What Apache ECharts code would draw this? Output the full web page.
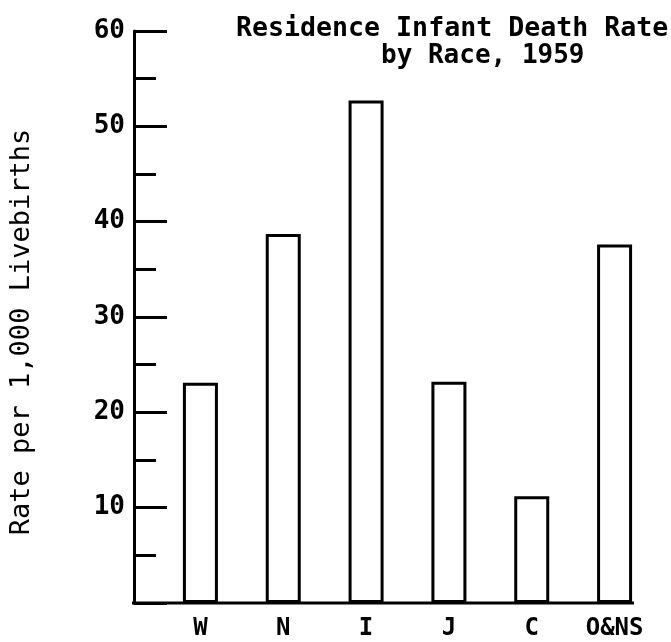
<!DOCTYPE html>
<html>
<head>
<meta charset="utf-8">
<script src="https://cdn.jsdelivr.net/npm/echarts@6/dist/echarts.min.js"></script>
<style>
    html, body { margin: 0; padding: 0; background: #fff; }
    #chart { width: 671px; height: 642px; }
</style>
</head>
<body>
<div id="chart"></div>
<script>
var raceList = ['W', 'N', 'I', 'J', 'C', 'O&NS'];
var rateList = [23.1, 38.7, 52.7, 23.2, 11.2, 37.6];
var yTicks = [0, 10, 20, 30, 40, 50, 60];

var monoFont = '"DejaVu Sans Mono", "Liberation Mono", monospace';

var chart = echarts.init(document.getElementById('chart'));

var option = {
    backgroundColor: '#fff',
    animation: false,
    title: [
        {
            text: 'Residence Infant Death Rate',
            left: 231,
            top: 11,
            textStyle: { fontFamily: monoFont, fontSize: 26.6, fontWeight: 'bold', color: '#000' }
        },
        {
            text: 'by Race, 1959',
            left: 376,
            top: 38,
            textStyle: { fontFamily: monoFont, fontSize: 26, fontWeight: 'bold', color: '#000' }
        }
    ],
    grid: {
        left: 158,
        right: 15,
        top: 31,
        bottom: 39
    },
    xAxis: {
        type: 'category',
        data: raceList,
        axisLine: { show: false },
        axisTick: { show: false },
        axisLabel: {
            margin: 14,
            fontFamily: monoFont,
            fontSize: 24,
            fontWeight: 'bold',
            color: '#000'
        }
    },
    yAxis: {
        type: 'value',
        min: yTicks[0],
        max: yTicks[yTicks.length - 1],
        interval: 10,
        offset: 25,
        name: 'Rate per 1,000 Livebirths',
        nameLocation: 'middle',
        nameRotate: 90,
        nameGap: 99,
        nameTextStyle: {
            fontFamily: monoFont,
            fontSize: 27,
            color: '#000',
            padding: [0, 30, 0, 0]
        },
        axisLine: { show: true, lineStyle: { color: '#000', width: 3 } },
        axisTick: { show: true, inside: true, length: 33, lineStyle: { color: '#000', width: 3 } },
        minorTick: { show: true, splitNumber: 2, length: 22, lineStyle: { color: '#000', width: 3 } },
        splitLine: { show: false },
        axisLabel: {
            margin: 9,
            fontFamily: monoFont,
            fontSize: 26,
            fontWeight: 'bold',
            color: '#000',
            formatter: function(v) { return v === 0 ? '' : String(v); }
        }
    },
    // 밑줄(x축선)은 y축에서 마지막 막대까지만
    graphic: [
        {
            type: 'line',
            shape: { x1: 132, y1: 603, x2: 634, y2: 603 },
            style: { stroke: '#000', lineWidth: 3 }
        }
    ],
    series: [
        {
            type: 'bar',
            data: rateList,
            barWidth: 35,
            itemStyle: { color: '#fff', borderColor: '#000', borderWidth: 3 }
        }
    ]
};

chart.setOption(option);
</script>
</body>
</html>
